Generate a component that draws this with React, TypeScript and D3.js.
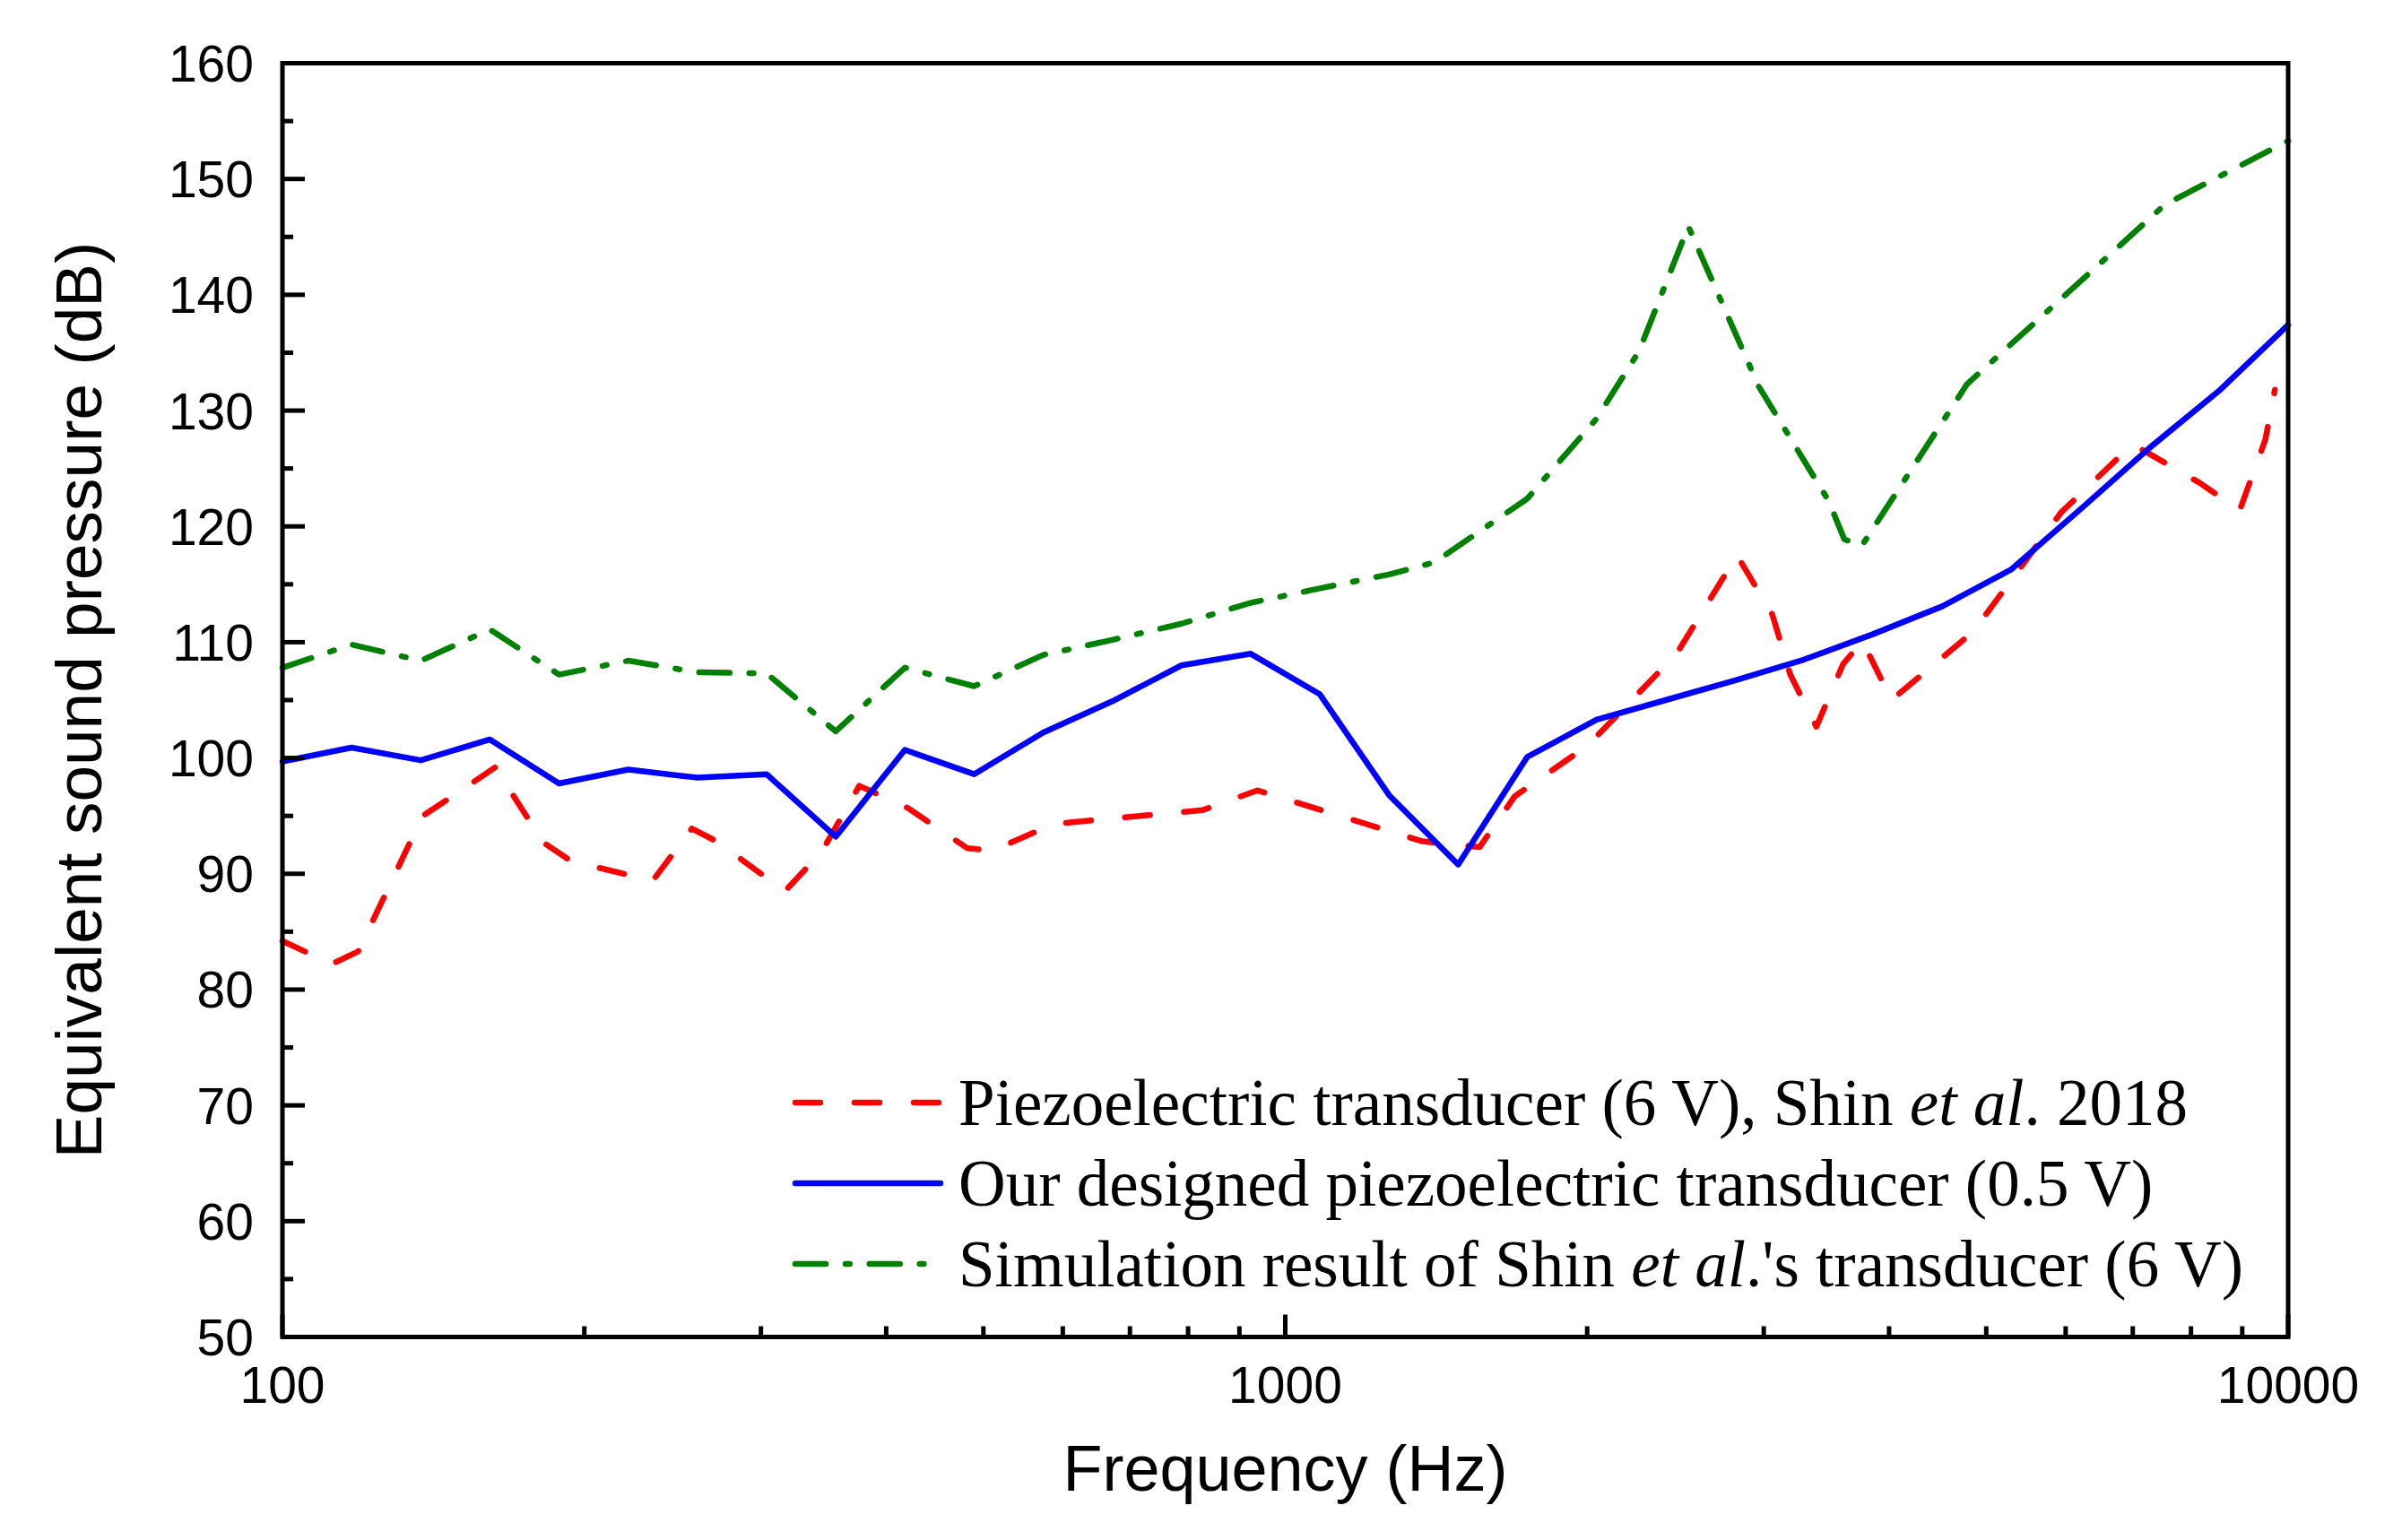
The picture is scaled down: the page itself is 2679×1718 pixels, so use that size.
import React, { useRef, useEffect } from 'react';
import * as d3 from 'd3';

// Frequency (Hz) / equivalent sound pressure (dB)
const redFreq = [100, 112, 119, 138, 149, 163, 182, 194, 234, 256, 271, 317, 345, 376, 420, 482, 511, 587, 827, 938, 1370, 1562, 1694, 2004, 2456, 2821, 3059, 3188, 3385, 3599, 3763, 4022, 4852, 5937, 6997, 8147, 8948, 9491, 9700];
const redSPL = [84.2, 82.2, 83.3, 95.0, 96.9, 99.2, 92.7, 91.1, 89.4, 93.9, 92.8, 88.5, 91.9, 97.6, 95.7, 92.2, 92.0, 94.3, 95.5, 97.2, 92.8, 92.3, 96.7, 101.1, 109.0, 117.5, 112.4, 107.2, 102.7, 108.1, 110.1, 105.0, 110.9, 121.2, 127.1, 123.8, 121.4, 127.5, 131.8];

const blueFreq = [100, 117.2, 137.4, 161.0, 188.7, 221.2, 259.3, 303.9, 356.2, 417.5, 489.4, 573.6, 672.3, 788.0, 923.7, 1082.6, 1268.9, 1487.4, 1743.3, 2043.4, 2395.0, 2807.2, 3290.3, 3856.6, 4520.4, 5298.3, 6210.2, 7278.9, 8531.7, 10000];
const blueSPL = [99.7, 100.9, 99.8, 101.6, 97.8, 99.0, 98.3, 98.6, 93.2, 100.7, 98.6, 102.2, 104.9, 108.0, 109.0, 105.5, 96.8, 90.8, 100.1, 103.3, 105.0, 106.7, 108.5, 110.7, 113.1, 116.3, 121.5, 126.8, 131.7, 137.4];

const greenFreq = [100, 117.2, 137.4, 161.0, 188.7, 221.2, 259.3, 303.9, 356.2, 417.5, 489.4, 573.6, 672.3, 788.0, 923.7, 1082.6, 1268.9, 1409, 1743.3, 2043.4, 2252, 2523, 2965, 3482, 3609, 3755, 4786, 7539, 10000];
const greenSPL = [107.8, 109.8, 108.4, 111.1, 107.2, 108.4, 107.4, 107.3, 102.3, 107.8, 106.2, 108.9, 110.2, 111.6, 113.4, 114.65, 115.85, 116.9, 122.4, 129.3, 135.1, 145.9, 132.1, 122.2, 118.9, 118.3, 132.3, 147.8, 153.3];

const xMajorTicks = [100, 1000, 10000];
const yMajorTicks = [50, 60, 70, 80, 90, 100, 110, 120, 130, 140, 150, 160];
const yMinorTicks = [55, 65, 75, 85, 95, 105, 115, 125, 135, 145, 155];

const series = [
  { name: 'red', freq: redFreq, spl: redSPL, color: '#ff0000', dash: '28,38' },
  { name: 'blue', freq: blueFreq, spl: blueSPL, color: '#0000ff', dash: null },
  { name: 'green', freq: greenFreq, spl: greenSPL, color: '#008000', dash: '34,22,4.7,22' },
];

const W = 2679;
const H = 1718;

const App: React.FC = () => {
  const svgRef = useRef<SVGSVGElement>(null);

  useEffect(() => {
    if (!svgRef.current) return;
    const svg = d3.select(svgRef.current);
    svg.selectAll('*').remove();

    const left = 315, right = 2552, top = 70.5, bottom = 1491.5;
    const x = d3.scaleLog().domain([100, 10000]).range([left, right]);
    const y = d3.scaleLinear().domain([50, 160]).range([bottom, top]);

    svg.append('rect').attr('width', W).attr('height', H).attr('fill', '#ffffff');

    // data lines
    const line = d3.line<[number, number]>()
      .x(d => x(d[0]))
      .y(d => y(d[1]));

    const plot = svg.append('g');
    series.forEach(s => {
      const pts = s.freq.map((f, i) => [f, s.spl[i]] as [number, number]);
      plot.append('path')
        .datum(pts)
        .attr('d', line)
        .attr('fill', 'none')
        .attr('stroke', s.color)
        .attr('stroke-width', 6.5)
        .attr('stroke-linecap', 'round')
        .attr('stroke-linejoin', 'round')
        .attr('stroke-dasharray', s.dash);
    });

    // frame
    svg.append('rect')
      .attr('x', left).attr('y', top)
      .attr('width', right - left).attr('height', bottom - top)
      .attr('fill', 'none').attr('stroke', '#000').attr('stroke-width', 5);

    const tickFont = '"Liberation Sans", Arial, sans-serif';

    // y ticks (inward)
    const ya = svg.append('g');
    yMajorTicks.forEach(v => {
      ya.append('line').attr('x1', left).attr('x2', left + 25)
        .attr('y1', y(v)).attr('y2', y(v))
        .attr('stroke', '#000').attr('stroke-width', 5);
      ya.append('text')
        .attr('x', 283).attr('y', y(v)).attr('dy', '0.36em')
        .attr('text-anchor', 'end')
        .attr('font-family', tickFont).attr('font-size', 57)
        .text(v);
    });
    yMinorTicks.forEach(v => {
      ya.append('line').attr('x1', left).attr('x2', left + 12)
        .attr('y1', y(v)).attr('y2', y(v))
        .attr('stroke', '#000').attr('stroke-width', 5);
    });

    // x ticks (inward)
    const xa = svg.append('g');
    x.ticks().forEach(f => {
      const major = xMajorTicks.includes(f);
      xa.append('line').attr('x1', x(f)).attr('x2', x(f))
        .attr('y1', bottom).attr('y2', bottom - (major ? 25 : 12))
        .attr('stroke', '#000').attr('stroke-width', 5);
    });
    xMajorTicks.forEach(f => {
      xa.append('text')
        .attr('x', x(f)).attr('y', 1565)
        .attr('text-anchor', 'middle')
        .attr('font-family', tickFont).attr('font-size', 57)
        .text(f);
    });

    // axis titles
    svg.append('text')
      .attr('x', x(1000)).attr('y', 1663)
      .attr('text-anchor', 'middle')
      .attr('font-family', tickFont).attr('font-size', 72)
      .text('Frequency (Hz)');
    svg.append('text')
      .attr('transform', `translate(113, ${(top + bottom) / 2}) rotate(-90)`)
      .attr('text-anchor', 'middle')
      .attr('font-family', tickFont).attr('font-size', 73)
      .text('Equivalent sound pressure (dB)');

    // legend
    const legendFont = '"Liberation Serif", "Times New Roman", serif';
    const legendRows = [
      { s: series[0], parts: [['Piezoelectric transducer (6 V), Shin ', false], ['et al', true], ['. 2018', false]] },
      { s: series[1], parts: [['Our designed piezoelectric transducer (0.5 V)', false]] },
      { s: series[2], parts: [['Simulation result of Shin ', false], ['et al', true], ['.\'s transducer (6 V)', false]] },
    ];
    const lg = svg.append('g');
    legendRows.forEach((row, i) => {
      const cy = 1230 + i * 90;
      lg.append('line')
        .attr('x1', 887).attr('x2', 1049)
        .attr('y1', cy).attr('y2', cy)
        .attr('stroke', row.s.color).attr('stroke-width', 6.5)
        .attr('stroke-linecap', 'round')
        .attr('stroke-dasharray', row.s.dash);
      const t = lg.append('text')
        .attr('x', 1069).attr('y', cy + 25)
        .attr('font-family', legendFont).attr('font-size', 73);
      row.parts.forEach(([txt, it]) => {
        t.append('tspan')
          .attr('font-style', it ? 'italic' : 'normal')
          .text(txt as string);
      });
    });
  }, []);

  return (
    <svg
      ref={svgRef}
      width={W}
      height={H}
      style={{ position: 'absolute', left: 0, top: 0, display: 'block' }}
    />
  );
};

export default App;
